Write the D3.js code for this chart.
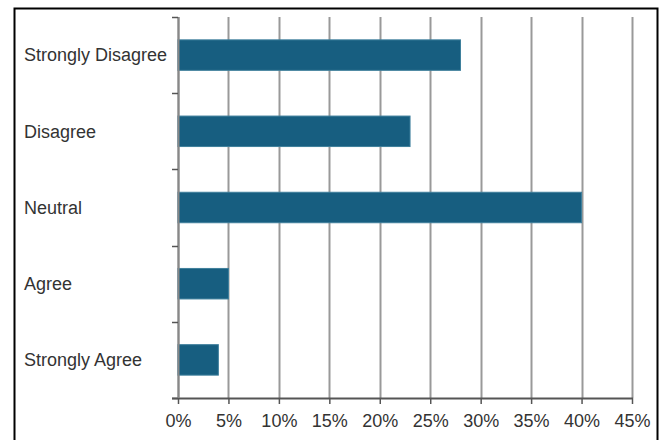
<!DOCTYPE html>
<html>
<head>
<meta charset="utf-8">
<script src="https://cdn.jsdelivr.net/npm/d3@7"></script>
<style>
  html, body { margin: 0; padding: 0; background: #fff; }
  svg { display: block; }
  text { font-family: "Liberation Sans", Arial, sans-serif; fill: #333; }
</style>
</head>
<body>
<svg id="chart" width="662" height="440"></svg>
<script>
// Survey response shares (percent)
const categories = ["Strongly Disagree", "Disagree", "Neutral", "Agree", "Strongly Agree"];
const percents = [28, 23, 40, 5, 4];
const xTicks = [0, 5, 10, 15, 20, 25, 30, 35, 40, 45];

const svg = d3.select("#chart");
const W = 662, H = 440;
const margin = { left: 178, right: 30, top: 17, bottom: 42 };
const plotW = W - margin.left - margin.right;
const plotH = H - margin.top - margin.bottom;

// frame around the chart (open at the bottom edge)
svg.append("path")
  .attr("d", `M14.5,440 V8.5 H657.5 V440`)
  .attr("fill", "none")
  .attr("stroke", "#000")
  .attr("stroke-width", 2);

const g = svg.append("g").attr("transform", `translate(${margin.left},${margin.top})`);

const x = d3.scaleLinear().domain([0, 45]).range([0, plotW]);
const y = d3.scaleBand().domain(categories).range([0, plotH]).paddingInner(0.6).paddingOuter(0.3);

// vertical gridlines
g.append("g")
  .selectAll("line")
  .data(xTicks)
  .join("line")
  .attr("x1", d => Math.round(x(d)) + 0.5)
  .attr("x2", d => Math.round(x(d)) + 0.5)
  .attr("y1", 0)
  .attr("y2", plotH)
  .attr("stroke", "#999")
  .attr("stroke-width", 2);

// bars
g.append("g")
  .selectAll("rect")
  .data(categories.map((c, i) => ({ c, v: percents[i] })))
  .join("rect")
  .attr("x", x(0))
  .attr("y", d => y(d.c))
  .attr("width", d => x(d.v) - x(0))
  .attr("height", y.bandwidth())
  .attr("fill", "#175e80")
  .attr("stroke", "#3f7f9c")
  .attr("stroke-width", 1);

// x axis
const xAxis = g.append("g")
  .attr("transform", `translate(0,${plotH})`)
  .call(d3.axisBottom(x).tickValues(xTicks).tickFormat(d => d + "%").tickSize(6).tickPadding(10));
xAxis.select(".domain").attr("d", `M-6,0.5H${plotW + 1}`).attr("stroke", "#555").attr("stroke-width", 2);
xAxis.selectAll(".tick line").attr("stroke", "#555").attr("stroke-width", 1.5);
xAxis.selectAll("text").attr("font-size", 18).attr("fill", "#333").attr("font-family", null);

// y axis: ticks at band boundaries, labels at band centers
const step = plotH / categories.length;
const bounds = d3.range(categories.length + 1).map(i => i * step);
g.append("line")
  .attr("x1", 0.5).attr("x2", 0.5).attr("y1", 0).attr("y2", plotH)
  .attr("stroke", "#888").attr("stroke-width", 2);
g.append("g")
  .selectAll("line")
  .data(bounds)
  .join("line")
  .attr("x1", -6).attr("x2", 0)
  .attr("y1", d => Math.round(d) + 0.5).attr("y2", d => Math.round(d) + 0.5)
  .attr("stroke", "#555").attr("stroke-width", 1.5);
g.append("g")
  .selectAll("text")
  .data(categories)
  .join("text")
  .attr("x", 24 - margin.left)
  .attr("y", d => y(d) + y.bandwidth() / 2)
  .attr("dy", "0.35em")
  .attr("text-anchor", "start")
  .attr("font-size", 18)
  .text(d => d);
</script>
</body>
</html>
